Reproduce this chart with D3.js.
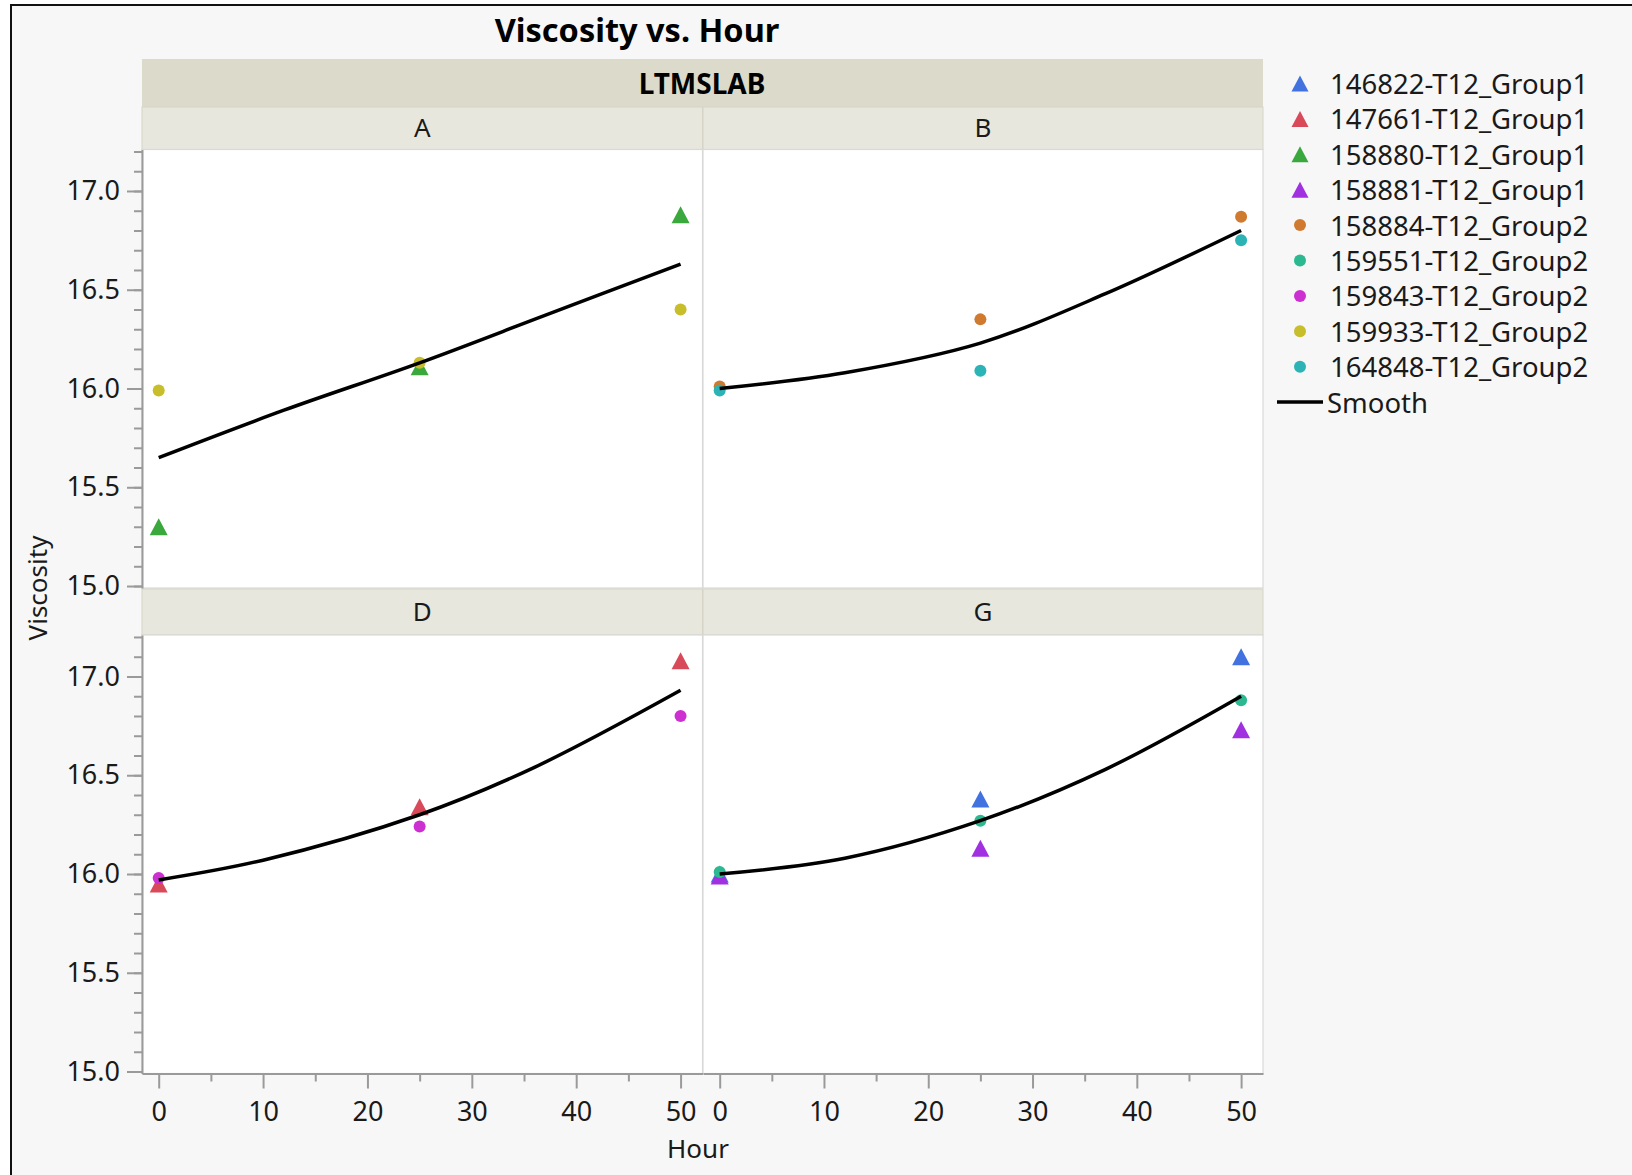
<!DOCTYPE html>
<html>
<head>
<meta charset="utf-8">
<script src="https://cdn.jsdelivr.net/npm/d3@7"></script>
<style>
  html, body { margin: 0; padding: 0; background: #ffffff; }
  svg { display: block; font-family: "Noto Sans", "Open Sans", sans-serif; }
</style>
</head>
<body>
<svg id="chart" width="1632" height="1175"></svg>
<script>
// ---------------- data ----------------
const seriesNames = ["146822-T12_Group1","147661-T12_Group1","158880-T12_Group1","158881-T12_Group1",
                     "158884-T12_Group2","159551-T12_Group2","159843-T12_Group2","159933-T12_Group2","164848-T12_Group2"];
const seriesColors = ["#4272e0","#d84a5a","#3aa83c","#a030e0","#d07a30","#2cb890","#cc30d0","#c8bd2a","#2cb3b6"];
const seriesShapes = ["triangle","triangle","triangle","triangle","circle","circle","circle","circle","circle"];
const panelNames = ["A","B","D","G"];
const hours = [0, 25, 50];

// Viscosity per panel and sample (hours 0, 25, 50)
const panelA_158880 = [15.30, 16.11, 16.88];
const panelA_159933 = [15.99, 16.13, 16.40];
const panelB_158884 = [16.01, 16.35, 16.87];
const panelB_164848 = [15.99, 16.09, 16.75];
const panelD_147661 = [15.95, 16.34, 17.08];
const panelD_159843 = [15.98, 16.24, 16.80];
const panelG_146822 = [16.00, 16.38, 17.10];
const panelG_158881 = [15.99, 16.13, 16.73];
const panelG_159551 = [16.01, 16.27, 16.88];

// Smoother curve
const smoothHoursA = [0, 12, 25, 37, 50];
const smoothA = [15.65, 15.89, 16.13, 16.37, 16.63];
const smoothHoursB = [0, 12, 25, 37, 50];
const smoothB = [16.00, 16.08, 16.23, 16.48, 16.80];
const smoothHoursD = [0, 10, 25, 36, 50];
const smoothD = [15.97, 16.07, 16.30, 16.54, 16.93];
const smoothHoursG = [0, 12, 25, 37, 50];
const smoothG = [16.00, 16.08, 16.27, 16.53, 16.90];

const yMajorTicks = [15.0, 15.5, 16.0, 16.5, 17.0];
const yMinorTicks = [15.0,15.1,15.2,15.3,15.4,15.5,15.6,15.7,15.8,15.9,16.0,16.1,16.2,16.3,16.4,16.5,16.6,16.7,16.8,16.9,17.0,17.1,17.2];
const xMajorTicks = [0, 10, 20, 30, 40, 50];
const xMinorTicks = [5, 15, 25, 35, 45];

// ---------------- assemble ----------------
const panelPoints = {
  A: [[2, panelA_158880], [7, panelA_159933]],
  B: [[4, panelB_158884], [8, panelB_164848]],
  D: [[1, panelD_147661], [6, panelD_159843]],
  G: [[0, panelG_146822], [3, panelG_158881], [5, panelG_159551]]
};
const panelSmooth = {
  A: [smoothHoursA, smoothA], B: [smoothHoursB, smoothB],
  D: [smoothHoursD, smoothD], G: [smoothHoursG, smoothG]
};

const svg = d3.select("#chart");
const textColor = "#1a1a1a";

// frame
svg.append("rect").attr("x", 0).attr("y", 0).attr("width", 1632).attr("height", 1175).attr("fill", "#ffffff");
svg.append("rect").attr("x", 10).attr("y", 4).attr("width", 1622).attr("height", 1171).attr("fill", "#f7f7f7");
svg.append("line").attr("x1", 10).attr("x2", 1632).attr("y1", 5).attr("y2", 5).attr("stroke", "#111").attr("stroke-width", 2);
svg.append("line").attr("x1", 11).attr("x2", 11).attr("y1", 4).attr("y2", 1175).attr("stroke", "#111").attr("stroke-width", 2);

// layout
const colX = [[142, 702.5], [703, 1263]];
const rowY = [[149.5, 588], [635, 1073.5]];
const xDomain = [-1.6, 52.1];
const yDomain = [14.99, 17.21];

// title
svg.append("text").attr("x", 637).attr("y", 42).attr("text-anchor", "middle")
  .attr("font-size", 32.5).attr("font-weight", "bold").attr("fill", "#000").text("Viscosity vs. Hour");

// outer strip
svg.append("rect").attr("x", 142).attr("y", 59).attr("width", 1121).attr("height", 48)
  .attr("fill", "#dcdacb");
svg.append("text").attr("x", 702).attr("y", 83).attr("text-anchor", "middle").attr("dominant-baseline", "central")
  .attr("font-size", 28).attr("font-weight", "bold").attr("fill", "#000").text("LTMSLAB");

const stripY = [[107, 149.5], [589, 635]];

panelNames.forEach((p, i) => {
  const r = Math.floor(i / 2), c = i % 2;
  const [x0, x1] = colX[c];
  const [y0, y1] = rowY[r];
  const x = d3.scaleLinear().domain(xDomain).range([x0, x1]);
  const y = d3.scaleLinear().domain(yDomain).range([y1, y0]);

  // strip
  svg.append("rect").attr("x", x0).attr("y", stripY[r][0]).attr("width", x1 - x0).attr("height", stripY[r][1] - stripY[r][0])
    .attr("fill", "#e8e7de").attr("stroke", "#d6d4c6").attr("stroke-width", 1);
  svg.append("text").attr("x", (x0 + x1) / 2).attr("y", (stripY[r][0] + stripY[r][1]) / 2 - 1)
    .attr("text-anchor", "middle").attr("dominant-baseline", "central")
    .attr("font-size", 26).attr("fill", textColor).text(p);

  // panel background
  svg.append("rect").attr("x", x0).attr("y", y0).attr("width", x1 - x0).attr("height", y1 - y0)
    .attr("fill", "#ffffff").attr("stroke", "#d9d9d9").attr("stroke-width", 1.2);

  const g = svg.append("g");
  // points
  panelPoints[p].forEach(([si, vals]) => {
    vals.forEach((v, k) => {
      const px = x(hours[k]), py = y(v);
      if (seriesShapes[si] === "triangle") {
        const w = 18, h = 17;
        g.append("path")
          .attr("d", `M${px},${py - h / 2}L${px + w / 2},${py + h / 2}L${px - w / 2},${py + h / 2}Z`)
          .attr("fill", seriesColors[si]);
      } else {
        g.append("circle").attr("cx", px).attr("cy", py).attr("r", 6).attr("fill", seriesColors[si]);
      }
    });
  });
  // smooth
  const [sh, sv] = panelSmooth[p];
  const line = d3.line().x(d => x(d[0])).y(d => y(d[1])).curve(d3.curveCatmullRom.alpha(0.5));
  g.append("path").attr("d", line(sh.map((h, k) => [h, sv[k]])))
    .attr("fill", "none").attr("stroke", "#000").attr("stroke-width", 3.5).attr("stroke-linecap", "butt");
});

// axis style helper
function styleAxis(sel) {
  sel.select(".domain").attr("stroke", "#9a9a9a").attr("stroke-width", 2);
  sel.selectAll(".tick line").attr("stroke", "#9a9a9a").attr("stroke-width", 2);
  sel.selectAll(".tick text").attr("fill", textColor).attr("font-size", 27).attr("font-family", "Noto Sans, sans-serif");
}

// y axes
rowY.forEach(([y0, y1]) => {
  const y = d3.scaleLinear().domain(yDomain).range([y1, y0]);
  const minor = svg.append("g").attr("transform", "translate(142,0)")
    .call(d3.axisLeft(y).tickValues(yMinorTicks).tickSize(8).tickFormat(""));
  styleAxis(minor);
  minor.select(".domain").remove();
  const major = svg.append("g").attr("transform", "translate(142,0)")
    .call(d3.axisLeft(y).tickValues(yMajorTicks).tickSize(15).tickPadding(7).tickSizeOuter(0).tickFormat(d3.format(".1f")));
  styleAxis(major);
});

// x axes
colX.forEach(([x0, x1]) => {
  const x = d3.scaleLinear().domain(xDomain).range([x0, x1]);
  const minor = svg.append("g").attr("transform", "translate(0,1073.5)")
    .call(d3.axisBottom(x).tickValues(xMinorTicks).tickSize(8).tickFormat(""));
  styleAxis(minor);
  minor.select(".domain").remove();
  const major = svg.append("g").attr("transform", "translate(0,1073.5)")
    .call(d3.axisBottom(x).tickValues(xMajorTicks).tickSize(15).tickPadding(13).tickSizeOuter(0));
  styleAxis(major);
});

// axis titles
svg.append("text").attr("x", 698).attr("y", 1158).attr("text-anchor", "middle")
  .attr("font-size", 26).attr("fill", textColor).text("Hour");
svg.append("text").attr("transform", "translate(47,588) rotate(-90)").attr("text-anchor", "middle")
  .attr("font-size", 26).attr("fill", textColor).text("Viscosity");

// legend
const legend = svg.append("g");
const legY0 = 83.5, legStep = 35.4;
seriesNames.forEach((name, i) => {
  const cy = legY0 + i * legStep, cx = 1300;
  if (seriesShapes[i] === "triangle") {
    const w = 17, h = 16;
    legend.append("path").attr("d", `M${cx},${cy - h / 2}L${cx + w / 2},${cy + h / 2}L${cx - w / 2},${cy + h / 2}Z`)
      .attr("fill", seriesColors[i]);
  } else {
    legend.append("circle").attr("cx", cx).attr("cy", cy).attr("r", 6).attr("fill", seriesColors[i]);
  }
  legend.append("text").attr("x", 1330).attr("y", cy).attr("dominant-baseline", "central")
    .attr("font-size", 27.5).attr("fill", textColor).text(name);
});
const smY = legY0 + seriesNames.length * legStep;
legend.append("line").attr("x1", 1277).attr("x2", 1323).attr("y1", smY).attr("y2", smY)
  .attr("stroke", "#000").attr("stroke-width", 3.5);
legend.append("text").attr("x", 1327).attr("y", smY).attr("dominant-baseline", "central")
  .attr("font-size", 27.5).attr("fill", textColor).text("Smooth");
</script>
</body>
</html>
